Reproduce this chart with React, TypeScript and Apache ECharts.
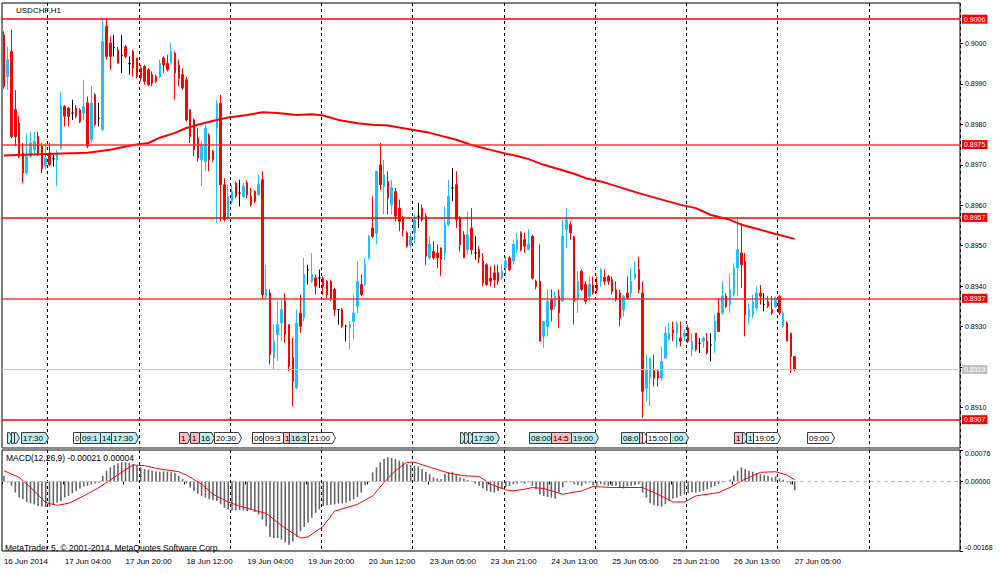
import React, { useEffect, useRef } from "react";
import * as echarts from "echarts";

// ---------------- DATA ----------------
const SLOT_COUNT = 252; // bar slots on the time axis (209 bars + empty future space)

const xTickLabels: [number, string][] = [
  [0, "16 Jun 2014"], [16, "17 Jun 04:00"], [32, "17 Jun 20:00"], [48, "18 Jun 12:00"],
  [64, "19 Jun 04:00"], [80, "19 Jun 20:00"], [96, "20 Jun 12:00"], [112, "23 Jun 05:00"],
  [128, "23 Jun 21:00"], [144, "24 Jun 13:00"], [160, "25 Jun 05:00"], [176, "25 Jun 21:00"],
  [192, "26 Jun 13:00"], [208, "27 Jun 05:00"],
];
const daySeparatorBars = [12, 36, 60, 84, 108, 132, 156, 180, 204, 228];
const priceTickValues = [0.891, 0.892, 0.893, 0.894, 0.895, 0.896, 0.897, 0.898, 0.899, 0.9];
const macdTickValues = [-0.00168, 0, 0.00076];
const levelPrices = [0.9006, 0.8975, 0.8957, 0.8937, 0.8907];
const strongLevels = [0.8975, 0.8937];

// USDCHF H1 candles: [open, high, low, close]
const ohlc: [number, number, number, number][] = [
  [0.90021, 0.9003, 0.89888, 0.89894], [0.89918, 0.89992, 0.89885, 0.8996], [0.8998, 0.90034, 0.89766, 0.8977], [0.89836, 0.89885, 0.89746, 0.8977],
  [0.89803, 0.8982, 0.89717, 0.89721], [0.89729, 0.89754, 0.89655, 0.8968], [0.8968, 0.89778, 0.89676, 0.89721], [0.89721, 0.89782, 0.89717, 0.89754],
  [0.89737, 0.89782, 0.89729, 0.89758], [0.8977, 0.89782, 0.89721, 0.89729], [0.89746, 0.89754, 0.8968, 0.8969], [0.89696, 0.89754, 0.8969, 0.89717],
  [0.89729, 0.89754, 0.89696, 0.897], [0.89715, 0.89729, 0.89696, 0.89715], [0.89713, 0.89737, 0.89647, 0.89729], [0.89741, 0.89881, 0.89737, 0.89848],
  [0.89844, 0.89848, 0.89795, 0.8982], [0.8984, 0.89844, 0.89795, 0.8982], [0.89828, 0.89861, 0.89811, 0.89828], [0.8984, 0.89848, 0.89815, 0.8982],
  [0.89836, 0.8984, 0.89803, 0.89807], [0.89828, 0.8991, 0.89811, 0.89844], [0.89853, 0.89869, 0.89741, 0.89746], [0.89762, 0.89894, 0.89754, 0.89853],
  [0.89873, 0.89877, 0.89795, 0.89799], [0.89815, 0.89853, 0.89795, 0.89815], [0.89787, 0.90058, 0.89783, 0.90005], [0.90042, 0.90062, 0.8996, 0.89968],
  [0.90001, 0.90017, 0.89935, 0.89968], [0.8999, 0.90021, 0.89968, 0.8999], [0.89984, 0.89992, 0.89951, 0.89951], [0.8997, 0.90021, 0.89927, 0.8997],
  [0.89992, 0.89996, 0.89964, 0.89968], [0.8995, 0.89968, 0.89923, 0.8995], [0.8998, 0.89984, 0.89918, 0.89939], [0.89964, 0.89964, 0.89914, 0.89918],
  [0.89939, 0.89947, 0.89906, 0.89914], [0.89943, 0.89947, 0.89898, 0.89906], [0.89935, 0.89939, 0.89894, 0.89898], [0.89923, 0.89931, 0.89894, 0.89902],
  [0.89918, 0.89923, 0.89902, 0.89906], [0.89918, 0.8996, 0.89914, 0.89951], [0.89964, 0.89968, 0.89927, 0.89947], [0.89951, 0.89972, 0.89931, 0.89935],
  [0.89951, 0.90001, 0.89947, 0.8998], [0.89976, 0.8998, 0.89861, 0.89927], [0.89947, 0.8996, 0.89894, 0.89914], [0.89923, 0.89939, 0.89885, 0.8989],
  [0.8991, 0.89918, 0.89807, 0.89811], [0.89836, 0.89836, 0.89754, 0.8977], [0.89811, 0.89815, 0.89721, 0.89737], [0.89766, 0.89791, 0.89708, 0.89717],
  [0.89713, 0.89758, 0.89647, 0.8975], [0.89708, 0.89799, 0.89684, 0.89791], [0.89774, 0.89778, 0.89684, 0.89713], [0.89733, 0.89737, 0.89708, 0.89713],
  [0.89791, 0.8986, 0.89556, 0.89852], [0.89852, 0.89873, 0.8956, 0.89651], [0.89651, 0.89667, 0.8956, 0.89565], [0.89568, 0.89651, 0.89564, 0.89622],
  [0.8961, 0.89651, 0.89601, 0.89634], [0.89655, 0.89659, 0.89618, 0.89622], [0.8963, 0.89663, 0.89597, 0.8963], [0.89622, 0.89655, 0.89618, 0.89647],
  [0.89655, 0.89661, 0.89618, 0.89626], [0.89622, 0.89643, 0.89597, 0.89601], [0.89634, 0.89638, 0.89605, 0.8961], [0.89626, 0.89675, 0.89626, 0.89651],
  [0.89663, 0.89684, 0.89371, 0.89379], [0.89375, 0.89453, 0.89371, 0.89392], [0.89383, 0.89392, 0.89206, 0.89231], [0.89223, 0.89305, 0.89194, 0.89264],
  [0.8928, 0.89363, 0.89215, 0.89305], [0.89309, 0.89367, 0.89264, 0.89342], [0.89363, 0.89383, 0.8926, 0.8928], [0.89305, 0.89305, 0.8919, 0.89202],
  [0.89223, 0.89272, 0.89103, 0.89165], [0.89149, 0.89342, 0.89145, 0.89309], [0.89334, 0.89379, 0.89285, 0.89301], [0.89322, 0.8947, 0.89313, 0.89429],
  [0.8944, 0.89453, 0.89404, 0.8944], [0.89412, 0.89482, 0.89408, 0.89429], [0.8942, 0.89429, 0.89379, 0.894], [0.8942, 0.89441, 0.89396, 0.8942],
  [0.8942, 0.89424, 0.89379, 0.894], [0.89412, 0.89416, 0.89371, 0.89379], [0.89412, 0.89416, 0.89363, 0.89371], [0.89392, 0.89396, 0.89326, 0.89342],
  [0.89342, 0.89342, 0.89305, 0.89342], [0.89342, 0.89346, 0.89297, 0.89301], [0.89301, 0.89305, 0.89264, 0.89301], [0.89297, 0.89313, 0.89243, 0.89305],
  [0.89313, 0.89379, 0.89268, 0.89334], [0.8935, 0.89461, 0.89334, 0.89412], [0.89404, 0.89429, 0.89375, 0.89379], [0.89404, 0.8947, 0.894, 0.89453],
  [0.8947, 0.89527, 0.89466, 0.89523], [0.89544, 0.89622, 0.89519, 0.89523], [0.89531, 0.89684, 0.89503, 0.89684], [0.897, 0.89754, 0.89638, 0.89651],
  [0.89647, 0.89712, 0.89577, 0.89675], [0.89659, 0.89684, 0.89577, 0.89618], [0.89601, 0.89663, 0.89577, 0.89643], [0.89634, 0.89643, 0.8956, 0.89573],
  [0.89593, 0.89614, 0.89536, 0.8956], [0.89569, 0.89573, 0.89523, 0.8954], [0.89532, 0.89536, 0.89495, 0.89499], [0.89503, 0.89532, 0.89495, 0.89523],
  [0.89532, 0.89577, 0.89507, 0.89564], [0.89573, 0.89606, 0.89544, 0.89573], [0.89593, 0.89602, 0.8956, 0.89564], [0.89573, 0.89581, 0.89453, 0.89474],
  [0.8947, 0.89523, 0.89466, 0.89503], [0.89486, 0.89511, 0.89466, 0.8947], [0.89482, 0.89503, 0.89445, 0.8947], [0.89495, 0.89495, 0.89425, 0.89466],
  [0.89482, 0.89597, 0.89466, 0.89552], [0.89552, 0.89663, 0.89548, 0.89622], [0.89643, 0.89692, 0.8961, 0.89643], [0.89651, 0.89684, 0.89544, 0.89564],
  [0.89569, 0.89573, 0.89486, 0.89503], [0.89527, 0.89536, 0.8947, 0.8947], [0.8949, 0.89585, 0.89478, 0.89527], [0.89544, 0.89593, 0.89478, 0.8949],
  [0.89482, 0.89523, 0.89466, 0.89482], [0.8949, 0.89499, 0.89457, 0.8947], [0.89462, 0.89482, 0.894, 0.89408], [0.89453, 0.89457, 0.894, 0.89404],
  [0.8942, 0.89449, 0.894, 0.89412], [0.89433, 0.89453, 0.89396, 0.89416], [0.89433, 0.89453, 0.89404, 0.89412], [0.8942, 0.89453, 0.89416, 0.89437],
  [0.89445, 0.89474, 0.89425, 0.89462], [0.8947, 0.89474, 0.89437, 0.89441], [0.89462, 0.89515, 0.89453, 0.89503], [0.8949, 0.89532, 0.89482, 0.89515],
  [0.89532, 0.89536, 0.89486, 0.8949], [0.89515, 0.89532, 0.89482, 0.89499], [0.8949, 0.89541, 0.8949, 0.89503], [0.89523, 0.89527, 0.89416, 0.8942],
  [0.89412, 0.89416, 0.89392, 0.894], [0.89412, 0.89503, 0.89264, 0.89264], [0.89276, 0.89313, 0.89248, 0.89313], [0.89301, 0.89392, 0.89276, 0.89363],
  [0.89367, 0.89392, 0.89313, 0.89342], [0.89351, 0.89387, 0.89342, 0.89375], [0.89375, 0.89392, 0.89297, 0.89334], [0.89363, 0.89564, 0.89363, 0.89523],
  [0.8954, 0.89593, 0.89495, 0.89564], [0.89552, 0.8956, 0.89515, 0.89532], [0.89523, 0.89523, 0.89305, 0.89363], [0.89367, 0.89437, 0.89334, 0.89412],
  [0.89437, 0.89441, 0.89388, 0.89392], [0.89404, 0.89412, 0.89355, 0.89363], [0.89375, 0.89425, 0.89363, 0.89404], [0.89403, 0.89424, 0.89379, 0.89383],
  [0.89403, 0.89424, 0.89383, 0.89391], [0.89412, 0.89445, 0.89399, 0.89441], [0.89422, 0.89441, 0.89403, 0.89412], [0.89424, 0.89428, 0.89403, 0.89412],
  [0.89416, 0.89424, 0.89379, 0.89387], [0.89391, 0.89412, 0.89362, 0.89366], [0.89383, 0.89391, 0.89301, 0.89321], [0.89342, 0.89379, 0.89325, 0.89375],
  [0.89383, 0.89424, 0.89366, 0.89371], [0.89383, 0.89445, 0.89371, 0.89412], [0.8942, 0.89461, 0.89416, 0.89432], [0.89441, 0.89473, 0.89383, 0.89391],
  [0.89383, 0.89412, 0.89074, 0.8914], [0.89148, 0.89231, 0.89115, 0.89194], [0.89173, 0.89222, 0.89103, 0.89222], [0.89194, 0.89231, 0.89152, 0.89173],
  [0.8919, 0.89194, 0.89152, 0.89173], [0.89173, 0.89251, 0.89165, 0.89214], [0.89222, 0.89301, 0.89222, 0.89284], [0.89268, 0.89309, 0.89264, 0.89284],
  [0.89292, 0.89313, 0.89264, 0.89284], [0.89284, 0.89313, 0.89247, 0.89309], [0.89272, 0.89313, 0.89251, 0.89264], [0.89276, 0.89292, 0.89264, 0.89284],
  [0.89297, 0.89305, 0.89259, 0.89264], [0.89243, 0.89284, 0.89226, 0.89264], [0.89284, 0.89284, 0.89239, 0.89243], [0.89259, 0.89272, 0.89235, 0.89259],
  [0.89264, 0.89276, 0.89247, 0.89272], [0.89264, 0.89284, 0.89231, 0.89235], [0.89255, 0.89284, 0.89214, 0.89255], [0.89264, 0.89329, 0.89235, 0.89313],
  [0.89334, 0.89371, 0.89288, 0.89288], [0.89334, 0.89412, 0.89329, 0.89375], [0.89375, 0.89383, 0.89346, 0.8935], [0.89354, 0.89432, 0.89334, 0.89391],
  [0.89379, 0.89457, 0.89375, 0.89445], [0.89445, 0.89572, 0.89375, 0.8949], [0.89482, 0.89556, 0.89395, 0.89453], [0.89461, 0.89482, 0.89276, 0.89329],
  [0.89325, 0.89358, 0.89305, 0.89342], [0.89329, 0.89379, 0.89321, 0.89362], [0.89346, 0.89399, 0.89338, 0.89383], [0.89383, 0.89403, 0.89354, 0.89375],
  [0.89354, 0.89383, 0.89338, 0.89354], [0.89362, 0.89375, 0.89346, 0.8935], [0.89342, 0.89375, 0.89329, 0.89334], [0.8935, 0.89375, 0.89346, 0.8937],
  [0.89375, 0.89379, 0.89329, 0.89334], [0.89301, 0.89338, 0.89297, 0.89334], [0.89309, 0.89313, 0.89264, 0.89264], [0.89284, 0.89284, 0.89185, 0.89226],
  [0.89226, 0.89226, 0.8919, 0.89194],
];

// moving average (red line), read at [bar, price]
const maPoints: [number, number][] = [
  [0, 0.89723], [11, 0.89727], [22, 0.8973], [28, 0.89737], [34, 0.89749], [38, 0.89754], [41, 0.89767],
  [45, 0.89779], [48, 0.89791], [53, 0.89804], [56, 0.89811], [59, 0.89817], [64, 0.89823], [68, 0.8983],
  [72, 0.89828], [77, 0.89823], [81, 0.89825], [84, 0.89822], [88, 0.89811], [93, 0.89803], [97, 0.89799],
  [101, 0.89797], [104, 0.89792], [112, 0.89779], [119, 0.89762], [123, 0.89749], [128, 0.89737], [131, 0.8973],
  [135, 0.89722], [138, 0.89714], [142, 0.897], [146, 0.89689], [150, 0.89678], [153, 0.89667], [157, 0.89659],
  [167, 0.8963], [178, 0.89601], [182, 0.89593], [186, 0.89576], [191, 0.89564], [194, 0.89552], [198, 0.89542],
  [203, 0.89529], [208, 0.89517],
];

// MACD main (histogram), in units of 0.00001
const macdHistE5 = [
  13.8, -2.4, -10.6, -26.8, -39.0, -43.1, -49.6, -52.8, -55.3, -59.3,
  -61.0, -61.8, -61.0, -55.3, -51.2, -47.2, -39.0, -35.0, -28.5, -22.8,
  -17.1, -12.2, -10.6, -8.1, -4.9, -2.4, 13.8, 26.0, 34.1, 39.8,
  43.9, 46.3, 46.3, 43.9, 42.3, 38.2, 34.1, 30.1, 28.5, 26.0,
  24.4, 23.6, 24.4, 23.6, 22.0, 20.3, 13.8, 5.7, -4.9, -14.6,
  -22.8, -29.3, -35.0, -39.0, -43.1, -44.7, -47.2, -55.3, -63.4, -67.5,
  -69.9, -69.9, -69.1, -69.9, -71.5, -69.1, -74.0, -79.7, -91.9, -108.0,
  -134.1, -136.6, -136.6, -140.6, -147.2, -152.8, -144.7, -134.1, -120.3, -109.8,
  -100.0, -87.8, -75.6, -67.5, -59.3, -57.7, -56.1, -55.3, -53.7, -52.8,
  -51.2, -47.2, -43.1, -37.4, -26.8, -8.9, -2.4, 22.0, 34.1, 46.3,
  54.5, 58.5, 56.9, 54.5, 50.4, 46.3, 42.3, 39.8, 38.2, 36.6,
  30.1, 23.6, 17.9, 9.8, 7.3, 5.7, 17.9, 22.0, 23.6, 17.9,
  9.8, 7.3, 3.3, 0.8, -4.9, -10.6, -17.1, -22.8, -25.2, -26.8,
  -22.8, -17.1, -14.6, -10.6, -6.5, -4.9, -2.4, -4.9, -2.4, -10.6,
  -18.7, -30.9, -35.0, -37.4, -39.0, -41.5, -26.8, -14.6, -2.4, -2.4,
  -6.5, -8.9, -10.6, -4.9, -2.4, -8.9, -10.6, -6.5, -8.9, -10.6,
  -10.6, -10.6, -14.6, -17.1, -12.2, -10.6, -8.9, -6.5, -26.8, -39.0,
  -52.8, -57.7, -59.3, -61.0, -55.3, -47.2, -41.5, -39.0, -35.0, -30.9,
  -28.5, -25.2, -26.8, -25.2, -22.8, -18.7, -14.6, -10.6, -6.5, -2.4,
  0.4, 4.1, 13.8, 26.0, 34.1, 30.1, 26.0, 23.6, 20.3, 17.9,
  15.4, 13.8, 9.8, 12.2, 7.3, 4.1, -2.4, -6.5, -21.0,
];

// MACD signal line, [bar, value in 0.00001]
const macdSignalE5: [number, number][] = [
  [0, 26], [4, 9.8], [8, -22.8], [11, -51.2], [14, -57.7], [17, -52.8], [21, -35], [25, -14.6], [29, 9.8],
  [32, 28.5], [34, 39.8], [37, 38.2], [41, 30.1], [46, 23.6], [48, 15.4], [52, -6.5], [55, -30.9], [59, -49.6],
  [62, -59.3], [66, -69.9], [69, -77.2], [73, -106.5], [78, -136.6], [80, -134.1], [84, -108.1], [87, -71.5],
  [90, -63.4], [93, -55.3], [97, -35], [100, -2.4], [103, 26], [106, 46.3], [108, 46.3], [113, 31.7],
  [117, 20.3], [121, 13.8], [125, 12.2], [128, -6.5], [132, -20.3], [134, -22.8], [137, -18.7], [139, -14.6],
  [142, -17.1], [147, -30.9], [152, -22.8], [155, -12.2], [160, -14.6], [168, -14.6], [172, -30.9],
  [176, -49.6], [179, -49.6], [182, -35], [188, -26.8], [191, -14.6], [195, 5.7], [199, 22], [203, 23.6],
  [206, 15.4], [208, 4],
];

// economic calendar flags: bar, fraction of the hour, visible text, kind (c=cyan, p=pink, w=white)
const events: { bar: number; frac: number; text: string; kind: string }[] = [
  { bar: 1, frac: 0.4, text: "", kind: "c" }, { bar: 2, frac: 0.3, text: "", kind: "c" },
  { bar: 3, frac: 0.2, text: "", kind: "c" }, { bar: 4, frac: 0.9, text: "17:30", kind: "c" },
  { bar: 18, frac: 0.8, text: "0", kind: "w" }, { bar: 20, frac: 0.6, text: "09:1", kind: "c" },
  { bar: 25, frac: 0.7, text: "14", kind: "c" }, { bar: 28, frac: 0.7, text: "17:30", kind: "c" },
  { bar: 46, frac: 0.6, text: "1", kind: "p" }, { bar: 49, frac: 0.5, text: "1", kind: "p" },
  { bar: 51, frac: 0.7, text: "16", kind: "c" }, { bar: 55, frac: 0.7, text: "20:30", kind: "w" },
  { bar: 65, frac: 0.7, text: "06", kind: "w" }, { bar: 68, frac: 0.6, text: "09:3", kind: "w" },
  { bar: 73, frac: 0.8, text: "1", kind: "p" }, { bar: 75, frac: 0.6, text: "16:3", kind: "c" },
  { bar: 80, frac: 0.5, text: "21:00", kind: "w" },
  { bar: 120, frac: 0.6, text: "", kind: "c" }, { bar: 121, frac: 0.6, text: "", kind: "c" },
  { bar: 122, frac: 0.6, text: "", kind: "c" }, { bar: 123, frac: 0.6, text: "17:30", kind: "c" },
  { bar: 138, frac: 0.6, text: "08:00", kind: "c" }, { bar: 144, frac: 0.5, text: "14:5", kind: "p" },
  { bar: 149, frac: 0.7, text: "19:00", kind: "c" }, { bar: 162, frac: 0.7, text: "08:0", kind: "c" },
  { bar: 167, frac: 0.5, text: "", kind: "p" }, { bar: 168, frac: 0.4, text: "", kind: "w" },
  { bar: 169, frac: 0.5, text: "15:00", kind: "w" }, { bar: 175, frac: 0.6, text: ":00", kind: "c" },
  { bar: 192, frac: 0.5, text: "1", kind: "p" }, { bar: 194, frac: 0.7, text: "", kind: "c" },
  { bar: 195, frac: 0.6, text: "1", kind: "c" }, { bar: 197, frac: 0.5, text: "19:05", kind: "w" },
  { bar: 211, frac: 0.7, text: "09:00", kind: "w" },
];

const symbolTitle = "USDCHF,H1";
const copyright = "MetaTrader 5, \u00A9 2001-2014, MetaQuotes Software Corp.";

// ---------------- CHART ----------------
const FONT = '"Liberation Sans", Arial, sans-serif';
const flagFill: Record<string, string> = { c: "#b8eef0", p: "#ffb8c0", w: "#ffffff" };

let measureCtx: CanvasRenderingContext2D | null = null;
function textWidth(t: string): number {
  if (!t) return 0;
  if (!measureCtx) {
    measureCtx = document.createElement("canvas").getContext("2d");
  }
  if (!measureCtx) return t.length * 4.5;
  measureCtx.font = '8px "Liberation Sans"';
  return measureCtx.measureText(t).width;
}

function buildOption() {
  const categories = Array.from({ length: SLOT_COUNT }, (_, i) => String(i));
  const tickMap = new Map<number, string>(xTickLabels);
  const sepSet = new Set(daySeparatorBars);
  const lastClose = ohlc[ohlc.length - 1][3];
  const lastHist = macdHistE5[macdHistE5.length - 1] / 1e5;
  const lastSignal = macdSignalE5[macdSignalE5.length - 1][1] / 1e5;
  const macdTitle = `MACD(12,26,9) ${lastHist.toFixed(5)} ${lastSignal.toFixed(5)}`;

  const sepLine = {
    show: true,
    interval: (i: number) => sepSet.has(i),
    lineStyle: { color: "#000", type: [3, 3], width: 1 },
  };

  const labelBase = {
    show: true,
    position: "end",
    distance: 2,
    color: "#fff",
    padding: [1, 2, 0, 2],
    fontSize: 7,
    lineHeight: 8,
    fontFamily: FONT,
  };

  const levelLines: any[] = levelPrices.map((p) => {
    const strong = strongLevels.includes(p);
    return {
      yAxis: p,
      lineStyle: strong
        ? { color: "rgba(255,40,40,0.7)", width: 2, type: "solid" }
        : { color: "#ff0000", width: 1.6, type: "solid" },
      label: { ...labelBase, formatter: p.toFixed(4), backgroundColor: "#ff0000" },
    };
  });
  levelLines.push({
    yAxis: lastClose,
    lineStyle: { color: "#c8c8c8", width: 1, type: "solid" },
    label: { ...labelBase, formatter: lastClose.toFixed(4), backgroundColor: "#c0c0c0" },
  });

  return {
    animation: false,
    backgroundColor: "#fff",
    textStyle: { fontFamily: FONT, color: "#000" },
    grid: [
      { left: 2, top: 3, width: 958, height: 445, show: true, borderColor: "#000", borderWidth: 1, backgroundColor: "#fff" },
      { left: 2, top: 450, width: 958, height: 101, show: true, borderColor: "#000", borderWidth: 1, backgroundColor: "#fff" },
    ],
    xAxis: [
      {
        type: "category",
        gridIndex: 0,
        data: categories,
        boundaryGap: true,
        axisLine: { show: false },
        axisTick: { show: false },
        axisLabel: { show: false },
        splitLine: sepLine,
      },
      {
        type: "category",
        gridIndex: 1,
        data: categories,
        boundaryGap: true,
        axisLine: { show: false },
        axisTick: {
          show: true,
          interval: (i: number) => tickMap.has(i),
          length: 3,
          lineStyle: { color: "#000" },
        },
        axisLabel: {
          show: true,
          interval: (i: number) => tickMap.has(i),
          formatter: (v: string) => tickMap.get(Number(v)) ?? "",
          align: "left",
          fontSize: 8,
          color: "#000",
          margin: 6,
          fontFamily: FONT,
        },
        splitLine: sepLine,
      },
    ],
    yAxis: [
      {
        type: "value",
        gridIndex: 0,
        position: "right",
        min: 0.89,
        max: 0.901,
        axisLine: { show: false },
        splitLine: { show: false },
        axisTick: { show: true, customValues: priceTickValues, length: 3, lineStyle: { color: "#000" } },
        axisLabel: {
          customValues: priceTickValues,
          formatter: (v: number) => v.toFixed(4),
          fontSize: 7,
          color: "#000",
          margin: 5,
          fontFamily: FONT,
        },
      },
      {
        type: "value",
        gridIndex: 1,
        position: "right",
        min: -0.00168,
        max: 0.00076,
        axisLine: { show: false },
        splitLine: { show: false },
        axisTick: { show: true, customValues: macdTickValues, length: 3, lineStyle: { color: "#000" } },
        axisLabel: {
          customValues: macdTickValues,
          formatter: (v: number) => v.toFixed(5),
          fontSize: 7,
          color: "#000",
          margin: 5,
          fontFamily: FONT,
          verticalAlignMinLabel: "bottom",
          verticalAlignMaxLabel: "top",
        },
      },
    ],
    graphic: [
      { type: "rect", left: 2, top: 447.5, z: 20, shape: { width: 958, height: 2.5 }, style: { fill: "#8c8c8c" } },
      { type: "text", left: 16, top: 6, z: 10, style: { text: symbolTitle, font: `8px ${FONT}`, fill: "#000" } },
      { type: "text", left: 6, top: 453, z: 10, style: { text: macdTitle, font: `8.5px ${FONT}`, fill: "#000" } },
      { type: "text", left: 5, top: 543, z: 10, style: { text: copyright, font: `8.5px ${FONT}`, fill: "#000" } },
    ],
    series: [
      {
        type: "candlestick",
        name: "USDCHF",
        xAxisIndex: 0,
        yAxisIndex: 0,
        barWidth: 2,
        z: 2,
        data: ohlc.map(([o, h, l, c]) => [o, c, Math.min(l, o, c), Math.max(h, o, c)]),
        itemStyle: {
          color: "#1ec0ff",
          color0: "#ff0000",
          borderColor: "#1ec0ff",
          borderColor0: "#ff0000",
          borderColorDoji: "#000000",
          borderWidth: 1,
        },
      },
      {
        type: "line",
        name: "MA",
        xAxisIndex: 0,
        yAxisIndex: 0,
        data: maPoints,
        showSymbol: false,
        silent: true,
        z: 3,
        color: "#ff0000",
        lineStyle: { color: "#ff0000", width: 2 },
        markLine: {
          silent: true,
          precision: 5,
          symbol: ["none", "none"],
          animation: false,
          data: levelLines,
        },
      },
      {
        type: "custom",
        name: "events",
        xAxisIndex: 0,
        yAxisIndex: 0,
        z: 6,
        silent: true,
        clip: false,
        data: events.map((e) => [e.bar, 0.8905]),
        renderItem: (params: any, api: any) => {
          const ev = events[params.dataIndex];
          const bw = api.size([1, 0])[0];
          const cx = api.coord([api.value(0), api.value(1)])[0];
          const x = Math.round(cx + ev.frac * bw - bw / 2) + 0.5;
          const cs = params.coordSys;
          const y0 = Math.round(cs.y + cs.height - 16) + 0.5;
          const h = 11;
          const tw = textWidth(ev.text);
          const w = ev.text ? Math.ceil(tw + 3) : 2;
          return {
            type: "group",
            children: [
              {
                type: "polygon",
                shape: {
                  points: [
                    [x, y0],
                    [x + w, y0],
                    [x + w + 3, y0 + h / 2],
                    [x + w, y0 + h],
                    [x, y0 + h],
                  ],
                },
                style: { fill: flagFill[ev.kind], stroke: "#3a3a3a", lineWidth: 1 },
              },
              {
                type: "text",
                style: {
                  x: x + 1.5,
                  y: y0 + h / 2 + 0.5,
                  text: ev.text,
                  font: `8px ${FONT}`,
                  fill: "#000",
                  align: "left",
                  verticalAlign: "middle",
                },
              },
            ],
          };
        },
      },
      {
        type: "bar",
        name: "MACD",
        xAxisIndex: 1,
        yAxisIndex: 1,
        barWidth: 1.6,
        silent: true,
        data: macdHistE5.map((v) => v / 1e5),
        itemStyle: { color: "#666666" },
        markLine: {
          silent: true,
          precision: 6,
          symbol: ["none", "none"],
          animation: false,
          label: { show: false },
          lineStyle: { color: "#bbbbbb", type: [4, 3], width: 1 },
          data: [{ yAxis: 0 }],
        },
      },
      {
        type: "line",
        name: "Signal",
        xAxisIndex: 1,
        yAxisIndex: 1,
        showSymbol: false,
        silent: true,
        z: 3,
        data: macdSignalE5.map(([i, v]) => [i, v / 1e5]),
        lineStyle: { color: "#ff0000", width: 1 },
      },
    ],
  };
}

export default function App() {
  const ref = useRef<HTMLDivElement>(null);
  useEffect(() => {
    if (!ref.current) return;
    const chart = echarts.init(ref.current, undefined, { renderer: "svg" });
    chart.setOption(buildOption() as any);
    return () => chart.dispose();
  }, []);
  return (
    <div
      ref={ref}
      style={{ position: "fixed", left: 0, top: 0, width: 1000, height: 574, background: "#fff" }}
    />
  );
}
